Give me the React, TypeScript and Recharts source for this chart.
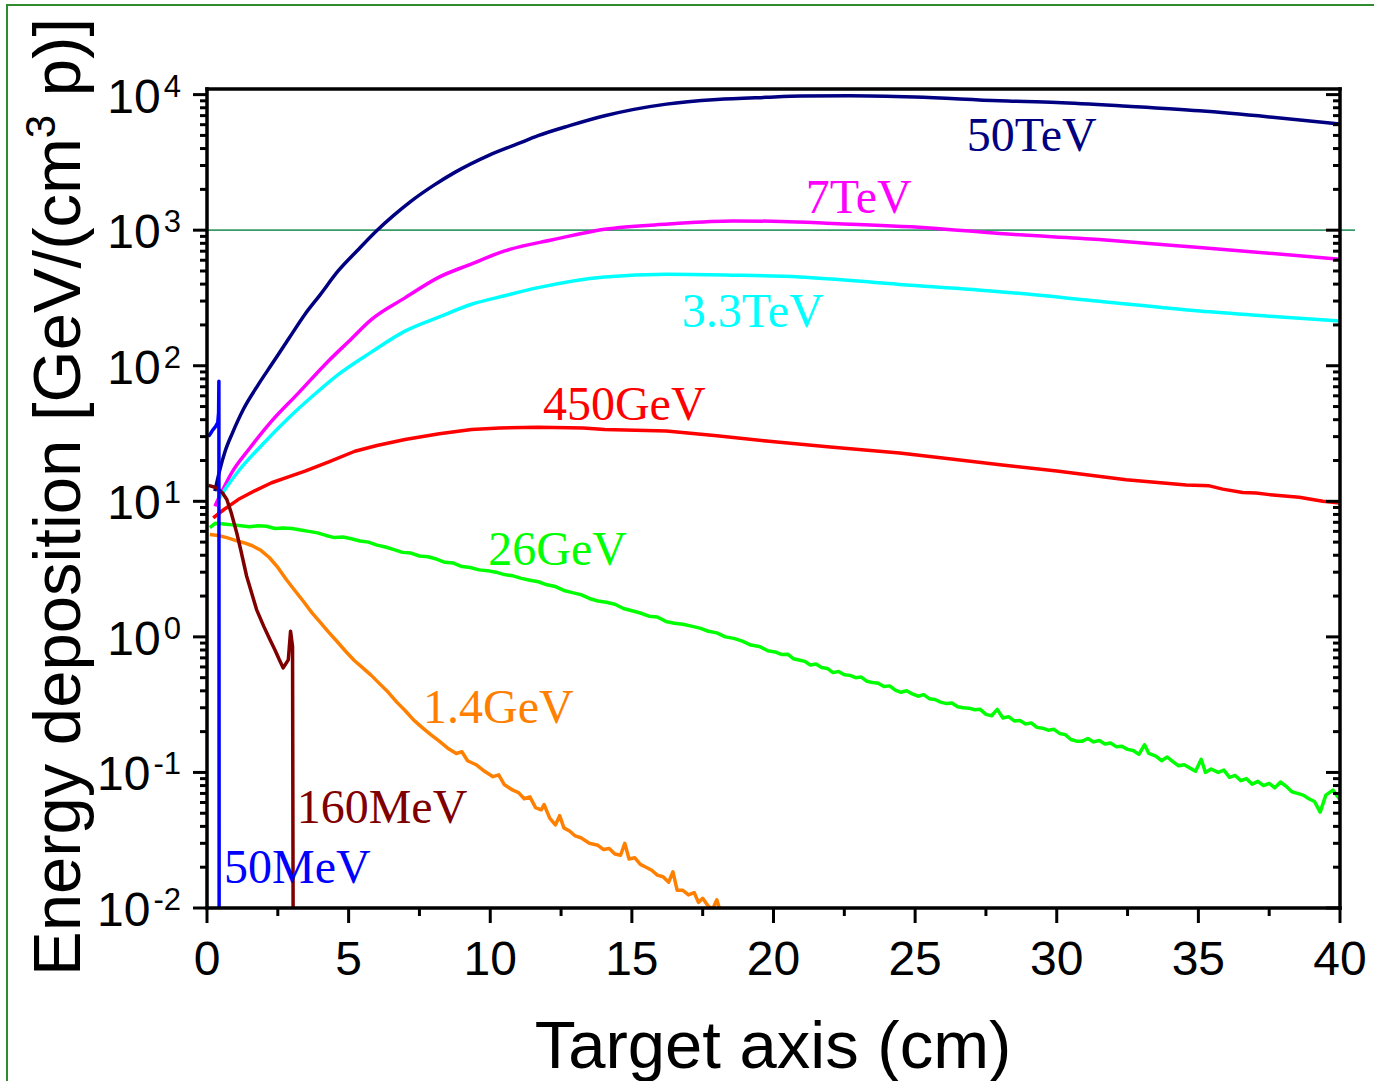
import React from "react";
import { LineChart, Line, XAxis, YAxis, ReferenceLine, ReferenceDot } from "recharts";

type Pt = [number, number];

// [depth (cm), energy deposition (GeV/(cm3 p))]
const tev50: Pt[] = [
  [0.28, 11.9], [0.45, 17], [0.64, 23.4], [0.9, 32], [1.28, 47.6], [1.8, 72], [2.28, 102],
  [2.9, 160], [3.46, 240], [4.0, 335], [4.63, 500], [5.3, 705], [5.99, 990], [6.6, 1290],
  [7.22, 1645], [8.0, 2140], [8.75, 2670], [9.93, 3550], [11.0, 4360], [11.69, 4980],
  [12.8, 5900], [14.04, 6980], [16.22, 8510], [18.0, 9200], [19.75, 9550], [21.0, 9750],
  [22.69, 9820], [25.0, 9600], [27.98, 9000], [30.0, 8750], [32.5, 8200], [35.04, 7590],
  [37.5, 6850], [40.0, 6070],
];

const tev7: Pt[] = [
  [0.28, 9.2], [0.5, 11.5], [0.87, 16.2], [1.5, 24.5], [2.28, 39], [3.2, 62], [4.28, 108],
  [5.0, 151], [5.81, 220], [7.0, 318], [8.16, 447], [9.3, 560], [10.51, 703], [12.2, 850],
  [14.04, 1016], [16.3, 1110], [18.57, 1170], [20.3, 1160], [22.1, 1120], [25.63, 1035],
  [27.98, 945], [31.5, 852], [35.04, 745], [40.0, 611],
];

const tev33: Pt[] = [
  [0.4, 10.3], [0.7, 12.8], [1.1, 16.6], [1.9, 25.5], [2.87, 41], [3.7, 59], [4.63, 86],
  [5.8, 126], [6.99, 180], [8.2, 229], [9.34, 284], [10.5, 328], [11.69, 377], [14.04, 452],
  [16.22, 473], [18.5, 466], [20.92, 452], [24.45, 398], [27.98, 352], [31.5, 299],
  [35.04, 253], [37.5, 232], [40.0, 214],
];

const gev450: Pt[] = [
  [0.22, 7.55], [0.6, 8.7], [1.1, 10.3], [1.7, 12], [2.28, 13.7], [2.9, 15.2], [3.46, 16.7],
  [4.3, 19.5], [5.22, 23.4], [6.0, 25.8], [6.99, 28.6], [8.2, 31.5], [9.34, 33.9],
  [10.34, 34.8], [11.69, 35.2], [13.28, 34.8], [14.04, 33.9], [16.22, 33], [18.0, 30.5],
  [19.75, 27.8], [22.0, 25.2], [24.45, 22.7], [26.2, 20.6], [28.0, 18.6], [30.0, 16.7],
  [32.45, 14.4], [34.57, 13.2], [35.39, 13.0], [35.86, 12.3], [36.56, 11.6], [37.04, 11.5],
  [37.51, 11.2], [38.56, 10.7], [39.39, 10.0], [40.0, 9.7],
];

const gev26: Pt[] = [
  [0.1, 6.4], [0.3, 6.9], [0.6, 6.8], [0.9, 6.7], [1.2, 6.6], [1.5, 6.5], [1.8, 6.6],
  [2.1, 6.55], [2.4, 6.3], [2.7, 6.35], [3.0, 6.3], [3.3, 6.15], [3.6, 6.0], [3.9, 5.85],
  [4.2, 5.6], [4.5, 5.4], [4.8, 5.45], [5.1, 5.3], [5.4, 5.1], [5.7, 5.0], [6.0, 4.75],
  [6.3, 4.6], [6.6, 4.4], [6.9, 4.2], [7.2, 4.15], [7.5, 3.95], [7.8, 3.9], [8.1, 3.75],
  [8.4, 3.55], [8.7, 3.5], [9.0, 3.3], [9.3, 3.25], [9.6, 3.12], [9.9, 3.08], [10.2, 3.0],
  [10.5, 2.88], [10.8, 2.82], [11.1, 2.7], [11.4, 2.62], [11.7, 2.55], [12.0, 2.42],
  [12.3, 2.35], [12.6, 2.2], [12.9, 2.12], [13.2, 2.05], [13.5, 1.92], [13.8, 1.84],
  [14.1, 1.8], [14.4, 1.74], [14.7, 1.62], [15.0, 1.56], [15.3, 1.5], [15.6, 1.42],
  [15.9, 1.4], [16.2, 1.3], [16.5, 1.26], [16.8, 1.24], [17.1, 1.2], [17.4, 1.16],
  [17.7, 1.1], [18.0, 1.07], [18.3, 1.0], [18.6, 0.975], [18.9, 0.93], [19.2, 0.87],
  [19.5, 0.85], [19.8, 0.79], [20.1, 0.77], [20.3, 0.74], [20.5, 0.745], [20.7, 0.69],
  [20.9, 0.675], [21.1, 0.66], [21.3, 0.62], [21.5, 0.63], [21.7, 0.595], [21.9, 0.585],
  [22.1, 0.545], [22.3, 0.555], [22.5, 0.525], [22.7, 0.52], [22.9, 0.5], [23.1, 0.505],
  [23.3, 0.47], [23.5, 0.46], [23.7, 0.455], [23.9, 0.43], [24.1, 0.435], [24.3, 0.405],
  [24.5, 0.39], [24.7, 0.4], [24.9, 0.38], [25.1, 0.365], [25.3, 0.375], [25.5, 0.35],
  [25.7, 0.345], [25.9, 0.33], [26.1, 0.322], [26.3, 0.325], [26.5, 0.305], [26.7, 0.3],
  [26.9, 0.298], [27.1, 0.29], [27.3, 0.292], [27.5, 0.268], [27.7, 0.262], [27.9, 0.292],
  [28.1, 0.252], [28.3, 0.258], [28.5, 0.24], [28.7, 0.242], [28.9, 0.228], [29.1, 0.232],
  [29.3, 0.215], [29.5, 0.212], [29.7, 0.205], [29.9, 0.208], [30.1, 0.194], [30.3, 0.19],
  [30.5, 0.175], [30.7, 0.17], [30.9, 0.17], [31.1, 0.178], [31.3, 0.168], [31.5, 0.172],
  [31.7, 0.162], [31.9, 0.165], [32.1, 0.155], [32.3, 0.156], [32.5, 0.148], [32.7, 0.145],
  [32.9, 0.136], [33.1, 0.16], [33.25, 0.138], [33.5, 0.132], [33.7, 0.122], [33.9, 0.13],
  [34.1, 0.12], [34.3, 0.112], [34.5, 0.114], [34.7, 0.108], [34.9, 0.102], [35.1, 0.125],
  [35.25, 0.1], [35.45, 0.106], [35.7, 0.1], [35.9, 0.104], [36.1, 0.092], [36.3, 0.095],
  [36.5, 0.087], [36.7, 0.09], [36.9, 0.082], [37.1, 0.086], [37.3, 0.08], [37.5, 0.083],
  [37.7, 0.077], [37.9, 0.085], [38.1, 0.079], [38.3, 0.072], [38.5, 0.07], [38.7, 0.068],
  [38.9, 0.064], [39.1, 0.061], [39.3, 0.051], [39.5, 0.068], [39.75, 0.074], [40.0, 0.063],
];

const gev14: Pt[] = [
  [0.1, 5.7], [0.4, 5.6], [0.7, 5.4], [1.0, 5.15], [1.3, 4.95], [1.6, 4.7], [1.9, 4.35],
  [2.2, 3.85], [2.5, 3.25], [2.8, 2.65], [3.1, 2.2], [3.4, 1.83], [3.7, 1.51], [4.0, 1.28],
  [4.3, 1.08], [4.6, 0.92], [4.9, 0.78], [5.2, 0.67], [5.5, 0.59], [5.8, 0.52], [6.1, 0.45],
  [6.4, 0.39], [6.7, 0.33], [7.0, 0.285], [7.3, 0.243], [7.6, 0.214], [7.9, 0.19],
  [8.2, 0.17], [8.5, 0.151], [8.8, 0.138], [9.0, 0.142], [9.2, 0.122], [9.5, 0.114],
  [9.8, 0.102], [10.1, 0.093], [10.3, 0.096], [10.5, 0.081], [10.8, 0.074], [11.0, 0.071],
  [11.2, 0.064], [11.4, 0.066], [11.6, 0.055], [11.8, 0.053], [11.9, 0.058], [12.1, 0.046],
  [12.3, 0.041], [12.45, 0.048], [12.6, 0.039], [12.8, 0.037], [13.0, 0.034], [13.2, 0.033],
  [13.5, 0.03], [13.8, 0.029], [14.0, 0.027], [14.2, 0.0275], [14.4, 0.025], [14.6, 0.0245],
  [14.75, 0.03], [14.9, 0.023], [15.1, 0.0235], [15.3, 0.021], [15.5, 0.02], [15.7, 0.019],
  [15.9, 0.0175], [16.1, 0.017], [16.3, 0.0155], [16.45, 0.0185], [16.6, 0.0135],
  [16.8, 0.0135], [17.0, 0.0125], [17.2, 0.013], [17.35, 0.011], [17.5, 0.0118],
  [17.7, 0.0103], [17.85, 0.0098], [18.0, 0.0115], [18.15, 0.009],
];

const mev160: Pt[] = [
  [0.05, 13.1], [0.34, 12.6], [0.55, 11.5], [0.7, 10.3], [0.85, 8.3], [1.05, 5.85],
  [1.2, 4.3], [1.4, 2.8], [1.55, 2.2], [1.75, 1.59], [2.0, 1.2], [2.22, 0.955], [2.4, 0.8],
  [2.55, 0.68], [2.69, 0.59], [2.87, 0.676], [2.95, 1.1], [3.02, 0.85], [3.05, 0.001],
];

const mev50: Pt[] = [
  [0.05, 30], [0.12, 31.5], [0.2, 33.5], [0.3, 35.5], [0.38, 38], [0.41, 45], [0.42, 77],
  [0.43, 0.001],
];

const xTicks = [0, 2.5, 5, 7.5, 10, 12.5, 15, 17.5, 20, 22.5, 25, 27.5, 30, 32.5, 35, 37.5, 40];
const yDecades = [0.01, 0.1, 1, 10, 100, 1000, 10000];
const yExponents = ["-2", "-1", "0", "1", "2", "3", "4"];

const yMinor: number[] = [];
yDecades.slice(0, -1).forEach((d) => {
  for (let m = 2; m <= 9; m++) yMinor.push(Number((d * m).toPrecision(3)));
});
const yTicks = [...yDecades, ...yMinor].sort((a, b) => a - b);

const series = [
  { key: "50TeV", color: "#000080", points: tev50, curve: "monotone" },
  { key: "7TeV", color: "#ff00ff", points: tev7, curve: "monotone" },
  { key: "3.3TeV", color: "#00ffff", points: tev33, curve: "monotone" },
  { key: "450GeV", color: "#ff0000", points: gev450, curve: "linear" },
  { key: "26GeV", color: "#00ff00", points: gev26, curve: "linear" },
  { key: "1.4GeV", color: "#ff8000", points: gev14, curve: "linear" },
  { key: "160MeV", color: "#800000", points: mev160, curve: "linear" },
  { key: "50MeV", color: "#0000ff", points: mev50, curve: "linear" },
];

// where each curve's name sits, in data coordinates (start of text, baseline)
const curveLabels = [
  { text: "50TeV", color: "#000080", x: 26.82, y: 3860 },
  { text: "7TeV", color: "#ff00ff", x: 21.14, y: 1346 },
  { text: "3.3TeV", color: "#00ffff", x: 16.76, y: 194 },
  { text: "450GeV", color: "#ff0000", x: 11.86, y: 39.9 },
  { text: "26GeV", color: "#00ff00", x: 9.93, y: 3.4 },
  { text: "1.4GeV", color: "#ff8000", x: 7.63, y: 0.2307 },
  { text: "160MeV", color: "#800000", x: 3.165, y: 0.0422 },
  { text: "50MeV", color: "#0000ff", x: 0.6, y: 0.0152 },
];

const SANS = "'Liberation Sans', Arial, sans-serif";
const SERIF = "'Liberation Serif', 'Times New Roman', serif";

const isMajorX = (v: number) => v % 5 === 0;
const isDecade = (v: number) => yDecades.includes(v);

function BottomTick(props: any) {
  const { x, y, payload } = props;
  const major = isMajorX(payload.value);
  return (
    <g>
      <line x1={x} x2={x} y1={y} y2={y + (major ? 15 : 8)} stroke="#000" strokeWidth={3} />
      {major ? (
        <text x={x} y={y + 67} textAnchor="middle" fontSize={48} fontFamily={SANS} fill="#000">
          {payload.value}
        </text>
      ) : null}
    </g>
  );
}

function TopTick(props: any) {
  const { x, y, payload } = props;
  const major = isMajorX(payload.value);
  return <line x1={x} x2={x} y1={y} y2={y + (major ? 15 : 8)} stroke="#000" strokeWidth={3} />;
}

function LeftTick(props: any) {
  const { x, y, payload } = props;
  const major = isDecade(payload.value);
  const exp = yExponents[yDecades.indexOf(payload.value)];
  return (
    <g>
      <line x1={x - (major ? 14 : 7)} x2={x} y1={y} y2={y} stroke="#000" strokeWidth={3} />
      {major ? (
        <text x={x - 26} y={y + 18} textAnchor="end" fontSize={48} fontFamily={SANS} fill="#000">
          10
          <tspan dx={3} dy={-16} fontSize={31}>
            {exp}
          </tspan>
        </text>
      ) : null}
    </g>
  );
}

function RightTick(props: any) {
  const { x, y, payload } = props;
  const major = isDecade(payload.value);
  return <line x1={x - (major ? 14 : 7)} x2={x} y1={y} y2={y} stroke="#000" strokeWidth={3} />;
}

const axisLine = { stroke: "#000", strokeWidth: 3.5, strokeLinecap: "square" };

export default function App() {
  return (
    <div
      style={{
        position: "absolute",
        left: 0,
        top: 0,
        width: 1374,
        height: 1081,
        overflow: "hidden",
        background: "#fff",
      }}
    >
      <div
        style={{
          position: "absolute",
          left: 6,
          top: 4,
          width: 1420,
          height: 1120,
          border: "2px solid #2e8b2e",
        }}
      />
      <div style={{ position: "absolute", left: 0, top: 0 }}>
        <LineChart width={1374} height={1081} margin={{ top: 59, right: 4, bottom: 113, left: 147 }}>
          <XAxis
            dataKey="x"
            type="number"
            domain={[0, 40]}
            ticks={xTicks}
            interval={0}
            height={60}
            tickSize={0}
            tickMargin={0}
            tick={BottomTick}
            axisLine={axisLine}
            tickLine={false}
            allowDataOverflow
          />
          <XAxis
            xAxisId="top"
            orientation="top"
            dataKey="x"
            type="number"
            domain={[0, 40]}
            ticks={xTicks}
            interval={0}
            height={30}
            tickSize={0}
            tickMargin={0}
            tick={TopTick}
            axisLine={axisLine}
            tickLine={false}
          />
          <YAxis
            type="number"
            scale="log"
            domain={[0.01, 11000]}
            ticks={yTicks}
            interval={0}
            width={60}
            tickSize={0}
            tickMargin={0}
            tick={LeftTick}
            axisLine={axisLine}
            tickLine={false}
            allowDataOverflow
          />
          <YAxis
            yAxisId="right"
            orientation="right"
            type="number"
            scale="log"
            domain={[0.01, 11000]}
            ticks={yTicks}
            interval={0}
            width={30}
            tickSize={0}
            tickMargin={0}
            tick={RightTick}
            axisLine={axisLine}
            tickLine={false}
            allowDataOverflow
          />
          <ReferenceLine
            segment={[
              { x: 0, y: 1000 },
              { x: 40.53, y: 1000 },
            ]}
            stroke="#3a9a6a"
            strokeWidth={1.8}
            ifOverflow="visible"
          />
          {series.map((s) => (
            <Line
              key={s.key}
              data={s.points.map(([x, y]) => ({ x, y }))}
              dataKey="y"
              type={s.curve as any}
              stroke={s.color}
              strokeWidth={3.5}
              strokeLinejoin="round"
              dot={false}
              activeDot={false}
              isAnimationActive={false}
            />
          ))}
          {curveLabels.map((l) => (
            <ReferenceDot
              key={l.text}
              x={l.x}
              y={l.y}
              r={0}
              ifOverflow="visible"
              shape={(p: any) => (
                <text x={p.cx} y={p.cy} fill={l.color} fontSize={48} fontFamily={SERIF}>
                  {l.text}
                </text>
              )}
            />
          ))}
        </LineChart>
      </div>
      <svg
        width={1374}
        height={1081}
        style={{ position: "absolute", left: 0, top: 0, pointerEvents: "none" }}
      >
        <text x={773} y={1068} textAnchor="middle" fontSize={67} fontFamily={SANS} fill="#000">
          Target axis (cm)
        </text>
        <text
          x={80}
          y={497}
          textAnchor="middle"
          fontSize={67}
          fontFamily={SANS}
          fill="#000"
          transform="rotate(-90 80 497)"
        >
          Energy deposition [GeV/(cm
          <tspan dy={-25} fontSize={42}>
            3
          </tspan>
          <tspan dy={25}> p)]</tspan>
        </text>
      </svg>
    </div>
  );
}
